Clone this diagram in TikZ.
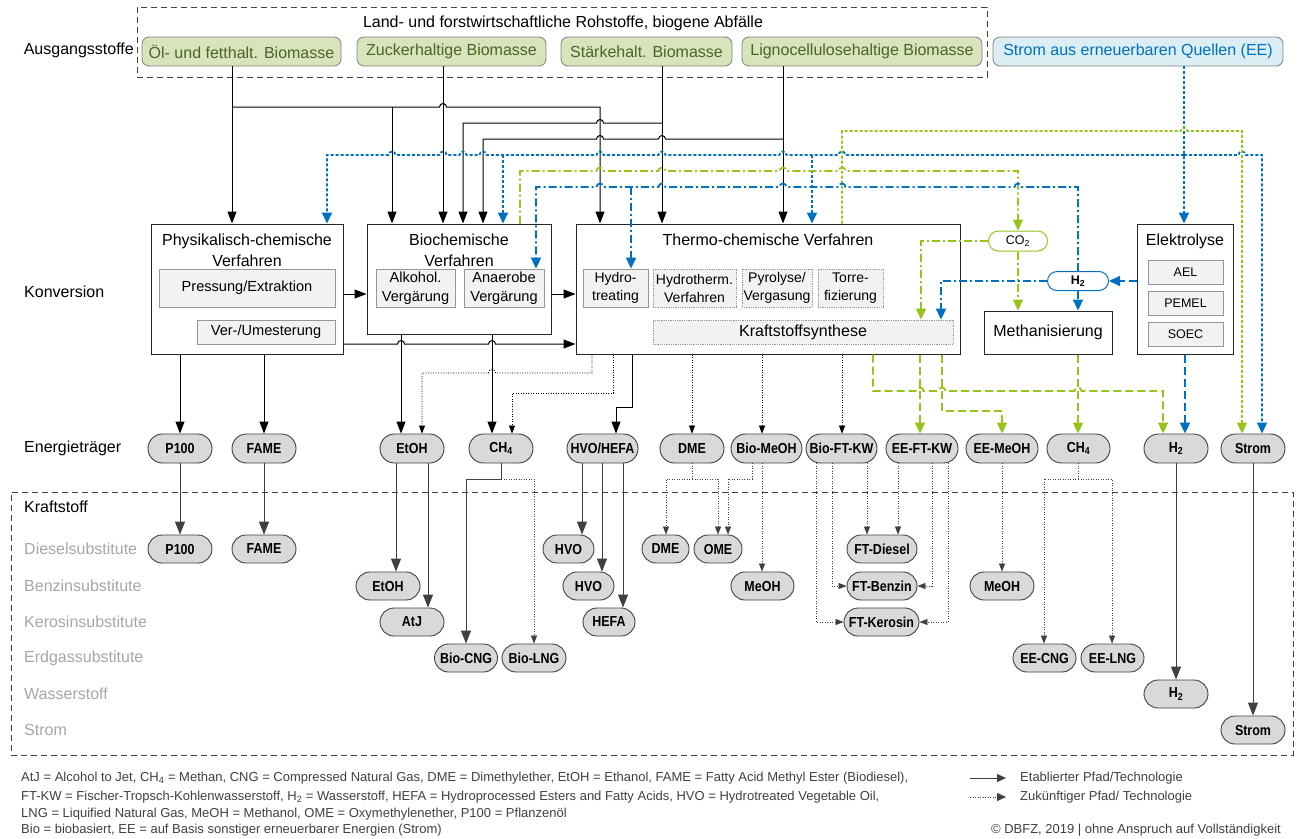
\documentclass[tikz,border=0pt]{standalone}
\usepackage{fontspec}
\setmainfont{Liberation Sans}
\newfontfamily\nbfont[FakeStretch=0.86]{Liberation Sans}
\usetikzlibrary{arrows.meta}
\definecolor{eeblue}{RGB}{0,112,192}
\definecolor{eegreen}{RGB}{150,196,28}
\definecolor{srcfill}{RGB}{216,228,188}
\definecolor{srctext}{RGB}{79,98,40}
\definecolor{srcdraw}{RGB}{127,127,127}
\definecolor{bluefill}{RGB}{218,238,243}
\definecolor{innerfill}{RGB}{242,242,242}
\definecolor{innerdraw}{RGB}{150,150,150}
\definecolor{pillfill}{RGB}{217,217,217}
\definecolor{dgray}{RGB}{64,64,64}
\definecolor{lgray}{RGB}{166,166,166}
\newcommand\fmain{\fontsize{16}{21}\selectfont}
\newcommand\finner{\fontsize{14.6}{19}\selectfont}
\newcommand\fthin{\fontsize{14}{18}\selectfont}
\newcommand\fsm{\fontsize{12.5}{15}\selectfont}
\newcommand\fpill{\nbfont\bfseries\fontsize{14.5}{16}\selectfont}
\newcommand\ffoot{\fontsize{13}{15}\selectfont}
\newcommand\hopR[2]{-- ({#1-3.5},#2) arc[start angle=180,end angle=0,radius=3.5pt]}
\newcommand\hopL[2]{-- ({#1+3.5},#2) arc[start angle=0,end angle=180,radius=3.5pt]}
\begin{document}
\begin{tikzpicture}[x=1pt,y=-1pt,
  lab/.style={inner sep=0pt,font=\fmain},
  rowlab/.style={inner sep=0pt,font=\fmain,text=lgray,anchor=west},
  src/.style={draw=srcdraw,fill=srcfill,text=srctext,rounded corners=7pt,minimum height=29pt,inner sep=0pt,font=\fmain,line width=0.8pt},
  srcb/.style={src,fill=bluefill,text=eeblue},
  mainbox/.style={draw=black!85,line width=1pt,fill=white,inner sep=0pt},
  inbox/.style={draw=innerdraw,fill=innerfill,line width=0.8pt,inner sep=0pt,font=\finner,align=center},
  inboxd/.style={inbox,densely dotted,font=\fthin},
  carrier/.style={draw=dgray,fill=pillfill,rounded corners=14.5pt,minimum height=29pt,minimum width=64pt,inner sep=0pt,font=\fpill,line width=0.9pt},
  fuel/.style={carrier,minimum height=28pt,rounded corners=14pt},
  blk/.style={draw=black,line width=1pt,-{Triangle[length=12pt,width=9pt]}},
  bkdot/.style={draw=black,line width=0.8pt,dash pattern=on 1pt off 1.5pt,-{Triangle[length=8pt,width=6pt]}},
  gsol/.style={draw=dgray,line width=1pt,-{Triangle[length=13pt,width=10pt]}},
  gdt/.style={draw=dgray,line width=0.8pt,dash pattern=on 1pt off 1.5pt,-{Triangle[length=8pt,width=6pt]}},
  ctip/.style={-{Triangle[length=11pt,width=10pt]}},
  bdot/.style={draw=eeblue,line width=1.8pt,dash pattern=on 3pt off 2pt},
  gdot/.style={draw=eegreen,line width=1.8pt,dash pattern=on 3pt off 2pt},
  bdd/.style={draw=eeblue,line width=1.8pt,dash pattern=on 8pt off 3pt on 2pt off 3pt},
  gdd/.style={draw=eegreen,line width=1.8pt,dash pattern=on 8pt off 3pt on 2pt off 3pt},
  gdash/.style={draw=eegreen,line width=1.8pt,dash pattern=on 8pt off 4pt},
  bdash/.style={draw=eeblue,line width=1.8pt,dash pattern=on 8pt off 4pt},
  foot/.style={inner sep=0pt,font=\ffoot,text=dgray,anchor=west}
]
\useasboundingbox (0,0) rectangle (1300,838);

% ---------- row labels
\node[lab,anchor=east] (lAusg) at (134,50) {Ausgangsstoffe};
\node[lab,anchor=west] (lKonv) at (24,292) {Konversion};
\node[lab,anchor=west] (lEnerg) at (24,448) {Energieträger};
\node[lab,anchor=west] (lKraft) at (24,507) {Kraftstoff};
\node[rowlab] (rDiesel) at (24,549) {Dieselsubstitute};
\node[rowlab] (rBenzin) at (24,586) {Benzinsubstitute};
\node[rowlab] (rKero) at (24,622) {Kerosinsubstitute};
\node[rowlab] (rErdgas) at (24,658) {Erdgassubstitute};
\node[rowlab] (rWasser) at (24,694) {Wasserstoff};
\node[rowlab] (rStrom) at (24,730) {Strom};

% ---------- dashed frames
\node[draw=dgray,line width=1pt,dash pattern=on 6pt off 4pt,minimum width=850pt,minimum height=70pt,inner sep=0pt] (rohbox) at (562,42) {};
\node[lab] (rohT) at (563,23) {Land- und forstwirtschaftliche Rohstoffe, biogene Abfälle};
\node[draw=dgray,line width=1pt,dash pattern=on 6pt off 4pt,minimum width=1282pt,minimum height=263pt,inner sep=0pt] (kraftbox) at (652,623.5) {};

% ---------- sources
\node[src,minimum width=199pt] (oel) at (241.5,51.5) {Öl- und fetthalt. Biomasse};
\node[src,minimum width=189pt] (zucker) at (451.5,51.5) {Zuckerhaltige Biomasse};
\node[src,minimum width=171pt] (staerke) at (646.5,51.5) {Stärkehalt. Biomasse};
\node[src,minimum width=240pt] (ligno) at (862,51.5) {Lignocellulosehaltige Biomasse};
\node[srcb,minimum width=290pt] (stromsrc) at (1138,51.5) {Strom aus erneuerbaren Quellen (EE)};

% ---------- conversion boxes
\node[mainbox,minimum width=192pt,minimum height=130pt] (phys) at (247,289) {};
\node[lab,align=center] (physT) at (247,250) {Physikalisch-chemische\\Verfahren};
\node[inbox,minimum width=176pt,minimum height=38pt] (press) at (247,288) {Pressung/Extraktion};
\node[inbox,minimum width=138pt,minimum height=24pt] (umest) at (266,332) {Ver-/Umesterung};

\node[mainbox,minimum width=184pt,minimum height=110pt] (bio) at (459,279) {};
\node[lab,align=center] (bioT) at (459,250) {Biochemische\\Verfahren};
\node[inbox,minimum width=79pt,minimum height=38pt] (alkohol) at (415.5,288) {Alkohol.\\Vergärung};
\node[inbox,minimum width=80pt,minimum height=38pt] (anaerob) at (504,288) {Anaerobe\\Vergärung};

\node[mainbox,minimum width=384pt,minimum height=130pt] (thermo) at (768,289) {};
\node[lab] (thermoT) at (768,240) {Thermo-chemische Verfahren};
\node[inbox,font=\fthin,minimum width=65pt,minimum height=38pt] (hydrotr) at (615.5,288) {Hydro-\\treating};
\node[inboxd,minimum width=83pt,minimum height=38pt] (hydrothm) at (694.5,288) {Hydrotherm.\\Verfahren};
\node[inboxd,minimum width=70pt,minimum height=38pt] (pyro) at (777,288) {Pyrolyse/\\Vergasung};
\node[inboxd,minimum width=65pt,minimum height=38pt] (torre) at (850.5,288) {Torre-\\fizierung};
\node[inboxd,font=\fmain,minimum width=300pt,minimum height=24pt] (ksynth) at (803,332) {Kraftstoffsynthese};

\node[mainbox,font=\fmain,minimum width=128pt,minimum height=43pt] (methan) at (1048,332.5) {Methanisierung};

\node[mainbox,minimum width=96pt,minimum height=130pt] (elek) at (1185,289) {};
\node[lab] (elekT) at (1185,241) {Elektrolyse};
\node[inbox,font=\fsm,minimum width=75pt,minimum height=24pt] (ael) at (1185.5,272) {AEL};
\node[inbox,font=\fsm,minimum width=75pt,minimum height=24pt] (pemel) at (1185.5,303) {PEMEL};
\node[inbox,font=\fsm,minimum width=75pt,minimum height=24pt] (soec) at (1185.5,334) {SOEC};

\node[draw=eegreen,fill=white,line width=1pt,rounded corners=10pt,minimum width=59pt,minimum height=20pt,inner sep=0pt,font=\fsm] (co2) at (1018,241) {CO\textsubscript{2}};
\node[draw=eeblue,fill=white,line width=1pt,rounded corners=9.5pt,minimum width=61pt,minimum height=19pt,inner sep=0pt,font=\fsm\bfseries] (h2n) at (1078,281) {H\textsubscript{2}};

% ---------- energy carriers
\node[carrier] (cP100) at (180,448.5) {P100};
\node[carrier] (cFAME) at (264,448.5) {FAME};
\node[carrier] (cEtOH) at (412,448.5) {EtOH};
\node[carrier] (cCH4) at (501,448.5) {CH\textsubscript{4}};
\node[carrier,minimum width=71pt] (cHVO) at (602.5,448.5) {HVO/HEFA};
\node[carrier] (cDME) at (692,448.5) {DME};
\node[carrier,minimum width=71pt] (cBioMeOH) at (766.5,448.5) {Bio-MeOH};
\node[carrier,minimum width=71pt] (cBioFT) at (841.5,448.5) {Bio-FT-KW};
\node[carrier,minimum width=72pt] (cEEFT) at (922,448.5) {EE-FT-KW};
\node[carrier,minimum width=72pt] (cEEMeOH) at (1002,448.5) {EE-MeOH};
\node[carrier,minimum width=63pt] (cCH4e) at (1078.5,448.5) {CH\textsubscript{4}};
\node[carrier] (cH2) at (1176,448.5) {H\textsubscript{2}};
\node[carrier] (cStrom) at (1253,448.5) {Strom};

% ---------- fuels
\node[fuel] (fP100) at (180,549) {P100};
\node[fuel] (fFAME) at (264,549) {FAME};
\node[fuel] (fEtOH) at (388,586) {EtOH};
\node[fuel] (fAtJ) at (412,622) {AtJ};
\node[fuel,minimum width=63pt] (fBioCNG) at (466,658) {Bio-CNG};
\node[fuel] (fBioLNG) at (534,658) {Bio-LNG};
\node[fuel,minimum width=51pt] (fHVO1) at (568.5,549) {HVO};
\node[fuel,minimum width=51pt] (fHVO2) at (588.5,586) {HVO};
\node[fuel,minimum width=52pt] (fHEFA) at (609,622) {HEFA};
\node[fuel,minimum width=47pt] (fDME) at (665.5,549) {DME};
\node[fuel,minimum width=48pt] (fOME) at (718,549) {OME};
\node[fuel,minimum width=63pt] (fMeOH) at (762.5,586) {MeOH};
\node[fuel,minimum width=70pt] (fFTD) at (882,549) {FT-Diesel};
\node[fuel,minimum width=70pt] (fFTB) at (882,586) {FT-Benzin};
\node[fuel,minimum width=75pt] (fFTK) at (881.5,622) {FT-Kerosin};
\node[fuel] (fMeOHe) at (1002,586) {MeOH};
\node[fuel,minimum width=63pt] (fEECNG) at (1044.5,658) {EE-CNG};
\node[fuel,minimum width=63pt] (fEELNG) at (1112.5,658) {EE-LNG};
\node[fuel] (fH2) at (1176,694) {H\textsubscript{2}};
\node[fuel] (fStrom) at (1253,730) {Strom};

% ---------- feedstock connectors (black)
\draw[blk] (oel.south -| 232,0) -- (phys.north -| 232,0);
\draw[blk] (232,107) \hopR{443}{107} -- (600,107) -- (thermo.north -| 600,0);
\draw[blk] (392,107) -- (bio.north -| 392,0);
\draw[blk] (zucker.south -| 443,0) -- (bio.north -| 443,0);
\draw[blk] (staerke.south -| 662,0) -- (thermo.north -| 662,0);
\draw[blk] (662,123) \hopL{600}{123} -- (463,123) -- (bio.north -| 463,0);
\draw[blk] (ligno.south -| 783,0) -- (thermo.north -| 783,0);
\draw[blk] (783,139) \hopL{662}{139} \hopL{600}{139} -- (483,139) -- (bio.north -| 483,0);

% ---------- electricity (blue dotted)
\draw[bdot,ctip] (stromsrc.south -| 1184,0) -- (elek.north -| 1184,0);
\draw[bdot,ctip] (1184,155) \hopL{842}{155} \hopL{783}{155} \hopL{662}{155} \hopL{600}{155} \hopL{483}{155} \hopL{463}{155} \hopL{443}{155} \hopL{392}{155} -- (327,155) -- (phys.north -| 327,0);
\draw[bdot,ctip] (1184,155) \hopR{1242}{155} -- (1262,155) -- (cStrom.north -| 1262,0);
\draw[bdot,ctip] (503,155) -- (bio.north -| 503,0);
\draw[bdot,ctip] (812,155) -- (thermo.north -| 812,0);

% ---------- thermo -> Strom (green dotted)
\draw[gdot,ctip] (thermo.north -| 842,0) -- (842,131) \hopR{1184}{131} -- (1242,131) -- (cStrom.north -| 1242,0);

% ---------- CO2 (green dash-dot)
\draw[gdd,ctip] (bio.north -| 520,0) -- (520,171) \hopR{600}{171} \hopR{662}{171} \hopR{783}{171} \hopR{842}{171} -- (1018,171) -- (co2.north);
\draw[gdd,ctip] (co2.west) -- (921,241) -- (ksynth.north -| 921,0);
\draw[gdd,ctip] (co2.south) -- (methan.north -| co2.south);

% ---------- H2 (blue dash-dot)
\draw[bdd,ctip] (h2n.north) -- (1078,187) \hopL{1018}{187} \hopL{842}{187} \hopL{783}{187} \hopL{662}{187} \hopL{600}{187} -- (536,187) -- (anaerob.north -| 536,0);
\draw[bdd,ctip] (631,187) -- (hydrotr.north -| 631,0);
\draw[bdd,ctip] (h2n.west) -- (941,281) -- (ksynth.north -| 941,0);
\draw[bdd,ctip] (h2n.south) -- (methan.north -| h2n.south);
\draw[bdash,ctip] (elek.west |- h2n.east) -- (h2n.east);
\draw[bdash,ctip] (elek.south -| 1185,0) -- (cH2.north -| 1185,0);

% ---------- EE products (green dashed)
\draw[gdash,ctip] (thermo.south -| 873,0) -- (873,391) \hopR{920}{391} \hopR{942}{391} \hopR{1078}{391} -- (1163,391) -- (cH2.north -| 1163,0);
\draw[gdash,ctip] (thermo.south -| 920,0) -- (cEEFT.north -| 920,0);
\draw[gdash,ctip] (thermo.south -| 942,0) -- (942,411) -- (1002,411) -- (cEEMeOH.north -| 1002,0);
\draw[gdash,ctip] (methan.south -| 1078,0) -- (cCH4e.north -| 1078,0);

% ---------- conversion -> carriers
\draw[blk] (phys.south -| 180,0) -- (cP100.north);
\draw[blk] (phys.south -| 264,0) -- (cFAME.north);
\draw[blk] (phys.east |- 0,294) -- (bio.west |- 0,294);
\draw[blk] (bio.east |- 0,294) -- (thermo.west |- 0,294);
\draw[blk] (phys.east |- 0,344) \hopR{401}{344} \hopR{492}{344} -- (thermo.west |- 0,344);
\draw[blk] (bio.south -| 401,0) -- (cEtOH.north -| 401,0);
\draw[blk] (bio.south -| 492,0) -- (cCH4.north -| 492,0);
\draw[bkdot] (thermo.south -| 592,0) -- (592,373) \hopL{492}{373} -- (422,373) -- (cEtOH.north -| 422,0);
\draw[bkdot] (thermo.south -| 613,0) -- (613,393) -- (512,393) -- (cCH4.north -| 512,0);
\draw[blk] (thermo.south -| 632,0) -- (632,407) -- (616,407) -- (cHVO.north -| 616,0);
\draw[bkdot] (thermo.south -| 692,0) -- (cDME.north -| 692,0);
\draw[bkdot] (thermo.south -| 762,0) -- (cBioMeOH.north -| 762,0);
\draw[bkdot] (thermo.south -| 842,0) -- (cBioFT.north -| 842,0);

% ---------- carriers -> fuels
\draw[gsol] (cP100.south) -- (fP100.north);
\draw[gsol] (cFAME.south) -- (fFAME.north);
\draw[gsol] (cEtOH.south -| 396,0) -- (fEtOH.north -| 396,0);
\draw[gsol] (cEtOH.south -| 428,0) -- (fAtJ.north -| 428,0);
\draw[gsol] (cCH4.south) -- (cCH4.south |- 0,479) -- (466,479) -- (fBioCNG.north);
\draw[gdt] (cCH4.south |- 0,479) -- (534,479) -- (fBioLNG.north);
\draw[gsol] (cHVO.south -| 582,0) -- (fHVO1.north -| 582,0);
\draw[gsol] (cHVO.south -| 602,0) -- (fHVO2.north -| 602,0);
\draw[gsol] (cHVO.south -| 623,0) -- (fHEFA.north -| 623,0);
\draw[gdt] (cDME.south) -- (cDME.south |- 0,479) -- (666,479) -- (fDME.north -| 666,0);
\draw[gdt] (cDME.south |- 0,479) -- (718,479) -- (fOME.north -| 718,0);
\draw[gdt] (cBioMeOH.south -| 752,0) -- (752,479) -- (728,479) -- (fOME.north -| 728,0);
\draw[gdt] (cBioMeOH.south -| 762,0) -- (fMeOH.north -| 762,0);
\draw[gdt] (cBioFT.south -| 867,0) -- (fFTD.north -| 867,0);
\draw[gdt] (cBioFT.south -| 832,0) -- (832,586) -- (fFTB.west);
\draw[gdt] (cBioFT.south -| 816,0) -- (816,622) -- (fFTK.west);
\draw[gdt] (cEEFT.south -| 898,0) -- (fFTD.north -| 898,0);
\draw[gdt] (cEEFT.south -| 932,0) -- (932,586) -- (fFTB.east);
\draw[gdt] (cEEFT.south -| 948,0) -- (948,622) -- (fFTK.east);
\draw[gdt] (cEEMeOH.south) -- (fMeOHe.north);
\draw[gdt] (cCH4e.south -| 1078,0) -- (1078,479) -- (1044,479) -- (fEECNG.north -| 1044,0);
\draw[gdt] (1078,479) -- (1112,479) -- (fEELNG.north -| 1112,0);
\draw[gsol] (cH2.south) -- (fH2.north);
\draw[gsol] (cStrom.south) -- (fStrom.north);

% ---------- footer
\node[foot] (fn1) at (21,778) {AtJ = Alcohol to Jet, CH\textsubscript{4} = Methan, CNG = Compressed Natural Gas, DME = Dimethylether, EtOH = Ethanol, FAME = Fatty Acid Methyl Ester (Biodiesel),};
\node[foot] (fn2) at (21,797) {FT-KW = Fischer-Tropsch-Kohlenwasserstoff, H\textsubscript{2} = Wasserstoff, HEFA = Hydroprocessed Esters and Fatty Acids, HVO = Hydrotreated Vegetable Oil,};
\node[foot] (fn3) at (21,814) {LNG = Liquified Natural Gas, MeOH = Methanol, OME = Oxymethylenether, P100 = Pflanzenöl};
\node[foot] (fn4) at (21,830) {Bio = biobasiert, EE = auf Basis sonstiger erneuerbarer Energien (Strom)};
\node[foot] (leg1) at (1020,778) {Etablierter Pfad/Technologie};
\node[foot] (leg2) at (1020,797) {Zukünftiger Pfad/ Technologie};
\coordinate (leg1s) at (970,778);
\coordinate (leg2s) at (970,797);
\draw[draw=dgray,line width=1pt,-{Triangle[length=9pt,width=8pt]}] (leg1s) -- ([xshift=-14pt]leg1.west);
\draw[draw=dgray,line width=0.8pt,dash pattern=on 1pt off 1.5pt,-{Triangle[length=9pt,width=8pt]}] (leg2s) -- ([xshift=-14pt]leg2.west);
\node[foot,anchor=east] (copy) at (1281,830) {© DBFZ, 2019 | ohne Anspruch auf Vollständigkeit};
\end{tikzpicture}
\end{document}
